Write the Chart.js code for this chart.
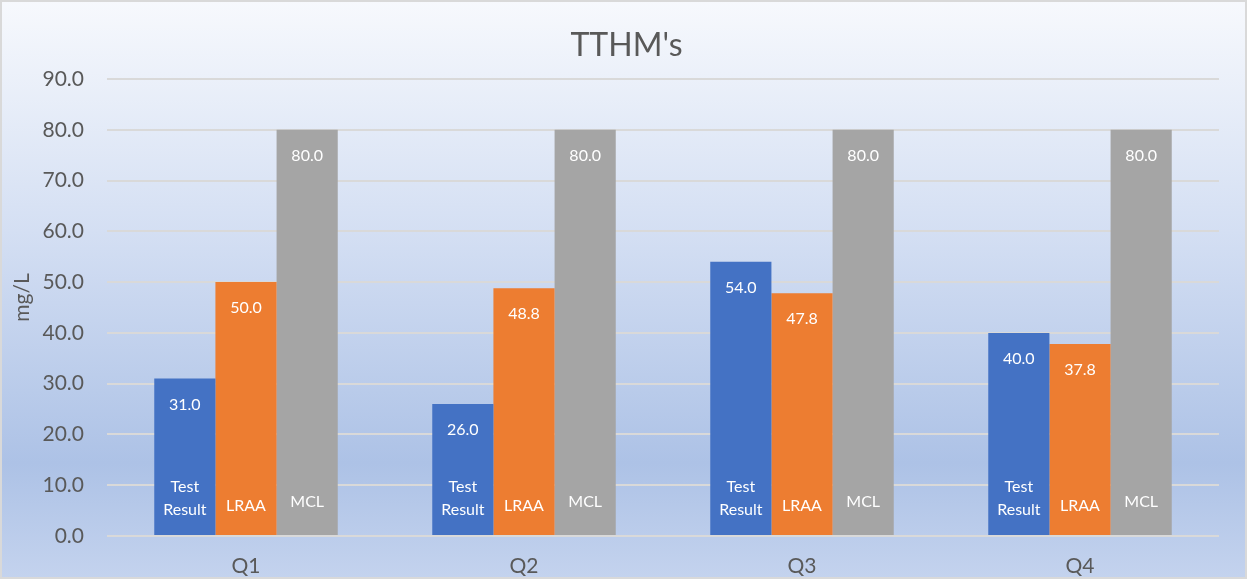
<!DOCTYPE html>
<html>
<head>
<meta charset="utf-8">
<script src="https://cdn.jsdelivr.net/npm/chart.js@4.4.0/dist/chart.umd.min.js"></script>
<style>
html,body{margin:0;padding:0;background:#fff;}
#wrap{width:1247px;height:579px;position:relative;}
</style>
</head>
<body>
<div id="wrap"><canvas id="c"></canvas></div>
<script>
const categories = ["Q1", "Q2", "Q3", "Q4"];
const testResult = [31.0, 26.0, 54.0, 40.0];
const lraa = [50.0, 48.8, 47.8, 37.8];
const mcl = [80.0, 80.0, 80.0, 80.0];
const seriesNames = [["Test", "Result"], ["LRAA"], ["MCL"]];
const yTicks = [0, 10, 20, 30, 40, 50, 60, 70, 80, 90];
const chartTitle = "TTHM's";
const yTitle = "mg/L";

const FONT = "Lato, 'Open Sans', sans-serif";

const bgPlugin = {
  id: 'bg',
  beforeDraw(chart) {
    const {ctx, width, height} = chart;
    ctx.save();
    const g = ctx.createLinearGradient(0, 0, 0, height);
    g.addColorStop(0, '#f7f9fd');
    g.addColorStop(0.4, '#d4dff3');
    g.addColorStop(0.8, '#adc2e6');
    g.addColorStop(1, '#c4d3ee');
    ctx.fillStyle = g;
    ctx.fillRect(0, 0, width, height);
    ctx.strokeStyle = '#d9d9d9';
    ctx.lineWidth = 2;
    ctx.strokeRect(1, 1, width - 2, height - 2);
    ctx.restore();
  }
};

const labelPlugin = {
  id: 'barLabels',
  afterDatasetsDraw(chart) {
    const {ctx, chartArea, width} = chart;
    ctx.save();
    ctx.textAlign = 'center';
    ctx.textBaseline = 'middle';
    // chart title
    ctx.fillStyle = '#595959';
    ctx.font = "32px " + FONT;
    ctx.fillText(chartTitle, width / 2 + 3, 46);
    // y axis title
    ctx.font = "21px " + FONT;
    ctx.translate(22, (chartArea.top + chartArea.bottom) / 2 - 10);
    ctx.rotate(-Math.PI / 2);
    ctx.fillText(yTitle, 0, 0);
    ctx.setTransform(1, 0, 0, 1, 0, 0);
    ctx.fillStyle = '#ffffff';
    chart.data.datasets.forEach((ds, di) => {
      const meta = chart.getDatasetMeta(di);
      meta.data.forEach((bar, i) => {
        ctx.font = "16px " + FONT;
        ctx.fillText(ds.data[i].toFixed(1), bar.x, bar.y + 26);
        const lines = seriesNames[di];
        if (lines.length === 2) {
          ctx.fillText(lines[0], bar.x, bar.base - 48);
          ctx.fillText(lines[1], bar.x, bar.base - 25);
        } else {
          ctx.fillText(lines[0], bar.x, bar.base - (di === 1 ? 29 : 33));
        }
      });
    });
    ctx.restore();
  }
};

new Chart(document.getElementById('c'), {
  type: 'bar',
  data: {
    labels: categories,
    datasets: [
      {label: 'Test Result', data: testResult, backgroundColor: '#4472C4'},
      {label: 'LRAA', data: lraa, backgroundColor: '#ED7D31'},
      {label: 'MCL', data: mcl, backgroundColor: '#A5A5A5'}
    ]
  },
  options: {
    responsive: true,
    maintainAspectRatio: false,
    animation: false,
    layout: {padding: {left: 0, right: 28, top: 79, bottom: 0}},
    datasets: {bar: {categoryPercentage: 0.66, barPercentage: 1.0, borderWidth: 0}},
    plugins: {
      legend: {display: false},
      tooltip: {enabled: false},
      title: {display: false}
    },
    scales: {
      x: {
        grid: {display: false},
        border: {display: false},
        ticks: {color: '#595959', font: {family: FONT, size: 21}, padding: 10},
        afterFit(axis) { axis.height = 43; }
      },
      y: {
        min: 0, max: 90,
        afterBuildTicks(axis) { axis.ticks = yTicks.map(v => ({value: v})); },
        afterFit(axis) { axis.width = 107; },
        grid: {color: '#d9d9d9', lineWidth: 2, drawTicks: false},
        border: {display: false},
        ticks: {color: '#595959', font: {family: FONT, size: 21}, padding: 23,
                callback: v => Number(v).toFixed(1)}
      }
    }
  },
  plugins: [bgPlugin, labelPlugin]
});
</script>
</body>
</html>
